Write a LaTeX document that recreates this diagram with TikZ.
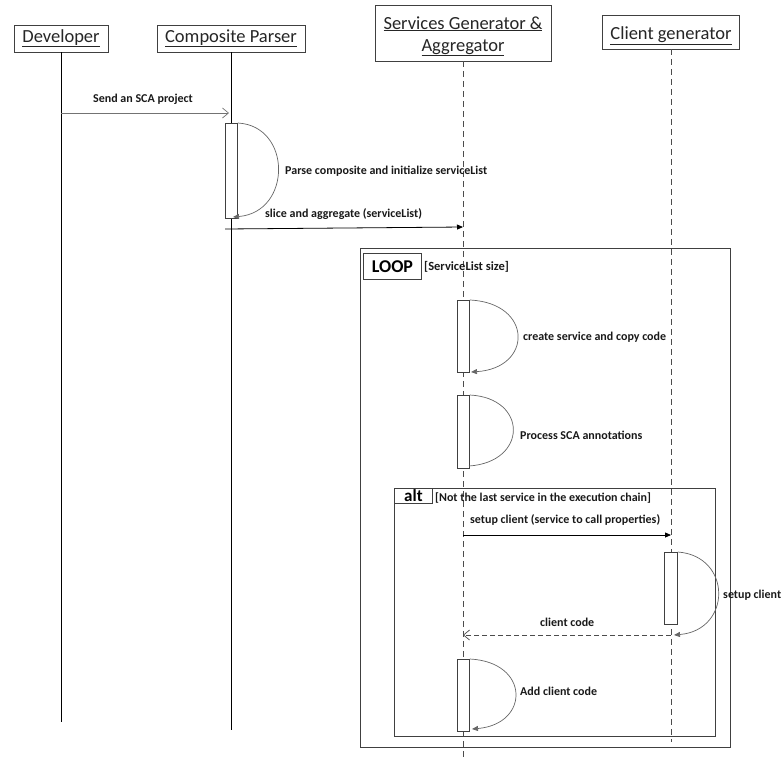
\documentclass[tikz,border=0pt]{standalone}
\usepackage{fontspec}
\setmainfont{Carlito}
\usetikzlibrary{arrows.meta}
\begin{document}
\begin{tikzpicture}[x=1pt,y=-1pt,
  head/.style={draw=black!75,line width=0.9pt,fill=white,inner sep=0pt},
  headtext/.style={anchor=base,inner sep=0pt,font=\fontsize{18.5}{21}\selectfont,text=black!85},
  lifeline/.style={draw=black,line width=0.8pt},
  dashline/.style={draw=black!70,line width=0.8pt,dash pattern=on 6pt off 4pt},
  actbar/.style={draw=black!75,line width=0.9pt,fill=white},
  frame/.style={draw=black!75,line width=0.9pt},
  msg/.style={font=\bfseries\fontsize{12}{14}\selectfont,text=black!90,inner sep=0pt},
  selfmsg/.style={draw=black!60,line width=0.7pt},
  filledtip/.style={-{Triangle[length=6pt,width=5pt]}},
  opentip/.style={-{Straight Barb[length=6pt,width=10pt,line width=0.7pt]}}]
\useasboundingbox (0,0) rectangle (783,761);
% header boxes
\node[head,minimum width=94pt,minimum height=27pt] (dev) at (61,38.5) {};
\node[head,minimum width=148pt,minimum height=27pt] (cp) at (231,38.5) {};
\node[head,minimum width=176pt,minimum height=56pt] (sg) at (463,33) {};
\node[head,minimum width=137pt,minimum height=34pt] (cg) at (671,32) {};
\node[headtext] (devt) at (61,42) {\underline{Developer}};
\node[headtext] (cpt) at (231,42) {\underline{Composite Parser}};
\node[headtext] (sgt1) at (463,29) {\underline{Services Generator \&}};
\node[headtext] (sgt2) at (463,51) {\underline{Aggregator}};
\node[headtext] (cgt) at (671,39.5) {\underline{Client generator}};
% lifeline ends
\coordinate (devE) at (61,722);
\coordinate (cpE) at (231,730);
\coordinate (sgE) at (463,760);
\coordinate (cgE) at (671,742);
\draw[lifeline] (dev.south) -- (devE);
\draw[lifeline] (cp.south) -- (cpE);
\draw[dashline] (sg.south) -- (sgE);
\draw[dashline] (cg.south) -- (cgE);
% frames
\node[frame,minimum width=370pt,minimum height=499pt,inner sep=0pt] (loop) at (545,497.5) {};
\node[frame,anchor=north west,minimum width=58pt,minimum height=26pt,inner sep=0pt,
  font=\bfseries\fontsize{18}{20}\selectfont] (looplbl) at (363,253) {LOOP};
\node[msg,anchor=west,font=\bfseries\fontsize{12.5}{14}\selectfont] (loopg) at (424,267) {[ServiceList size]};
\node[frame,minimum width=321pt,minimum height=248pt,inner sep=0pt] (alt) at (554.5,612) {};
\node[frame,anchor=north west,minimum width=38pt,minimum height=15pt,inner sep=0pt,
  font=\bfseries\fontsize{17}{17}\selectfont] (altlbl) at (394,488) {alt};
\node[msg,anchor=west] (altg) at (435,498) {[Not the last service in the execution chain]};
% message 1
\coordinate (m1a) at (61,113);
\coordinate (m1b) at (229,113);
\draw[draw=black!55,line width=0.8pt,opentip] (m1a) -- (m1b);
\node[msg] (m1l) at (143,99) {Send an SCA project};
% activation composite parser
\node[actbar,anchor=north west,minimum width=12pt,minimum height=95pt,inner sep=0pt] (a1) at (225,123) {};
\coordinate (a1e) at (233,217);
\draw[selfmsg,filledtip] (a1.north east) .. controls (292,126) and (292,212) .. (a1e);
\node[msg,anchor=west] (a1l) at (285,171) {Parse composite and initialize serviceList};
% slice message
\coordinate (m2a) at (225,229);
\coordinate (m2b) at (463,227);
\draw[draw=black,line width=0.8pt,filledtip] (m2a) -- (m2b);
\node[msg,anchor=west] (m2l) at (265,214) {slice and aggregate (serviceList)};
% create service
\node[actbar,anchor=north west,minimum width=12pt,minimum height=72pt,inner sep=0pt] (a2) at (457,300) {};
\coordinate (a2e) at (471,372);
\draw[selfmsg,filledtip] (a2.north east) .. controls (533,303) and (533,368) .. (a2e);
\node[msg,anchor=west] (a2l) at (523,337) {create service and copy code};
% process SCA
\node[actbar,anchor=north west,minimum width=12pt,minimum height=73pt,inner sep=0pt] (a3) at (457,395) {};
\coordinate (a3e) at (469,466);
\draw[selfmsg] (a3.north east) .. controls (528,398) and (528,462) .. (a3e);
\node[msg,anchor=west] (a3l) at (520,435) {Process SCA annotations};
% setup client message
\coordinate (m3a) at (463,535);
\coordinate (m3b) at (671,535);
\draw[draw=black,line width=0.8pt,filledtip] (m3a) -- (m3b);
\node[msg,anchor=west] (m3l) at (470,520) {setup client (service to call properties)};
% client activation
\node[actbar,anchor=north west,minimum width=13pt,minimum height=72pt,inner sep=0pt] (a4) at (664,552) {};
\coordinate (a4e) at (674,635);
\draw[selfmsg,filledtip] (a4.north east) .. controls (732,556) and (732,630) .. (a4e);
\node[msg,anchor=west] (a4l) at (723,595) {setup client};
% client code return
\coordinate (m4a) at (671,635);
\coordinate (m4b) at (463,635);
\draw[draw=black!70,line width=0.8pt,dash pattern=on 5pt off 3pt,opentip] (m4a) -- (m4b);
\node[msg,anchor=west] (m4l) at (540,622) {client code};
% add client code
\node[actbar,anchor=north west,minimum width=12pt,minimum height=72pt,inner sep=0pt] (a5) at (457,659) {};
\coordinate (a5e) at (472,729);
\draw[selfmsg,filledtip] (a5.north east) .. controls (530,662) and (530,724) .. (a5e);
\node[msg,anchor=west] (a5l) at (520,691) {Add client code};
\end{tikzpicture}
\end{document}
